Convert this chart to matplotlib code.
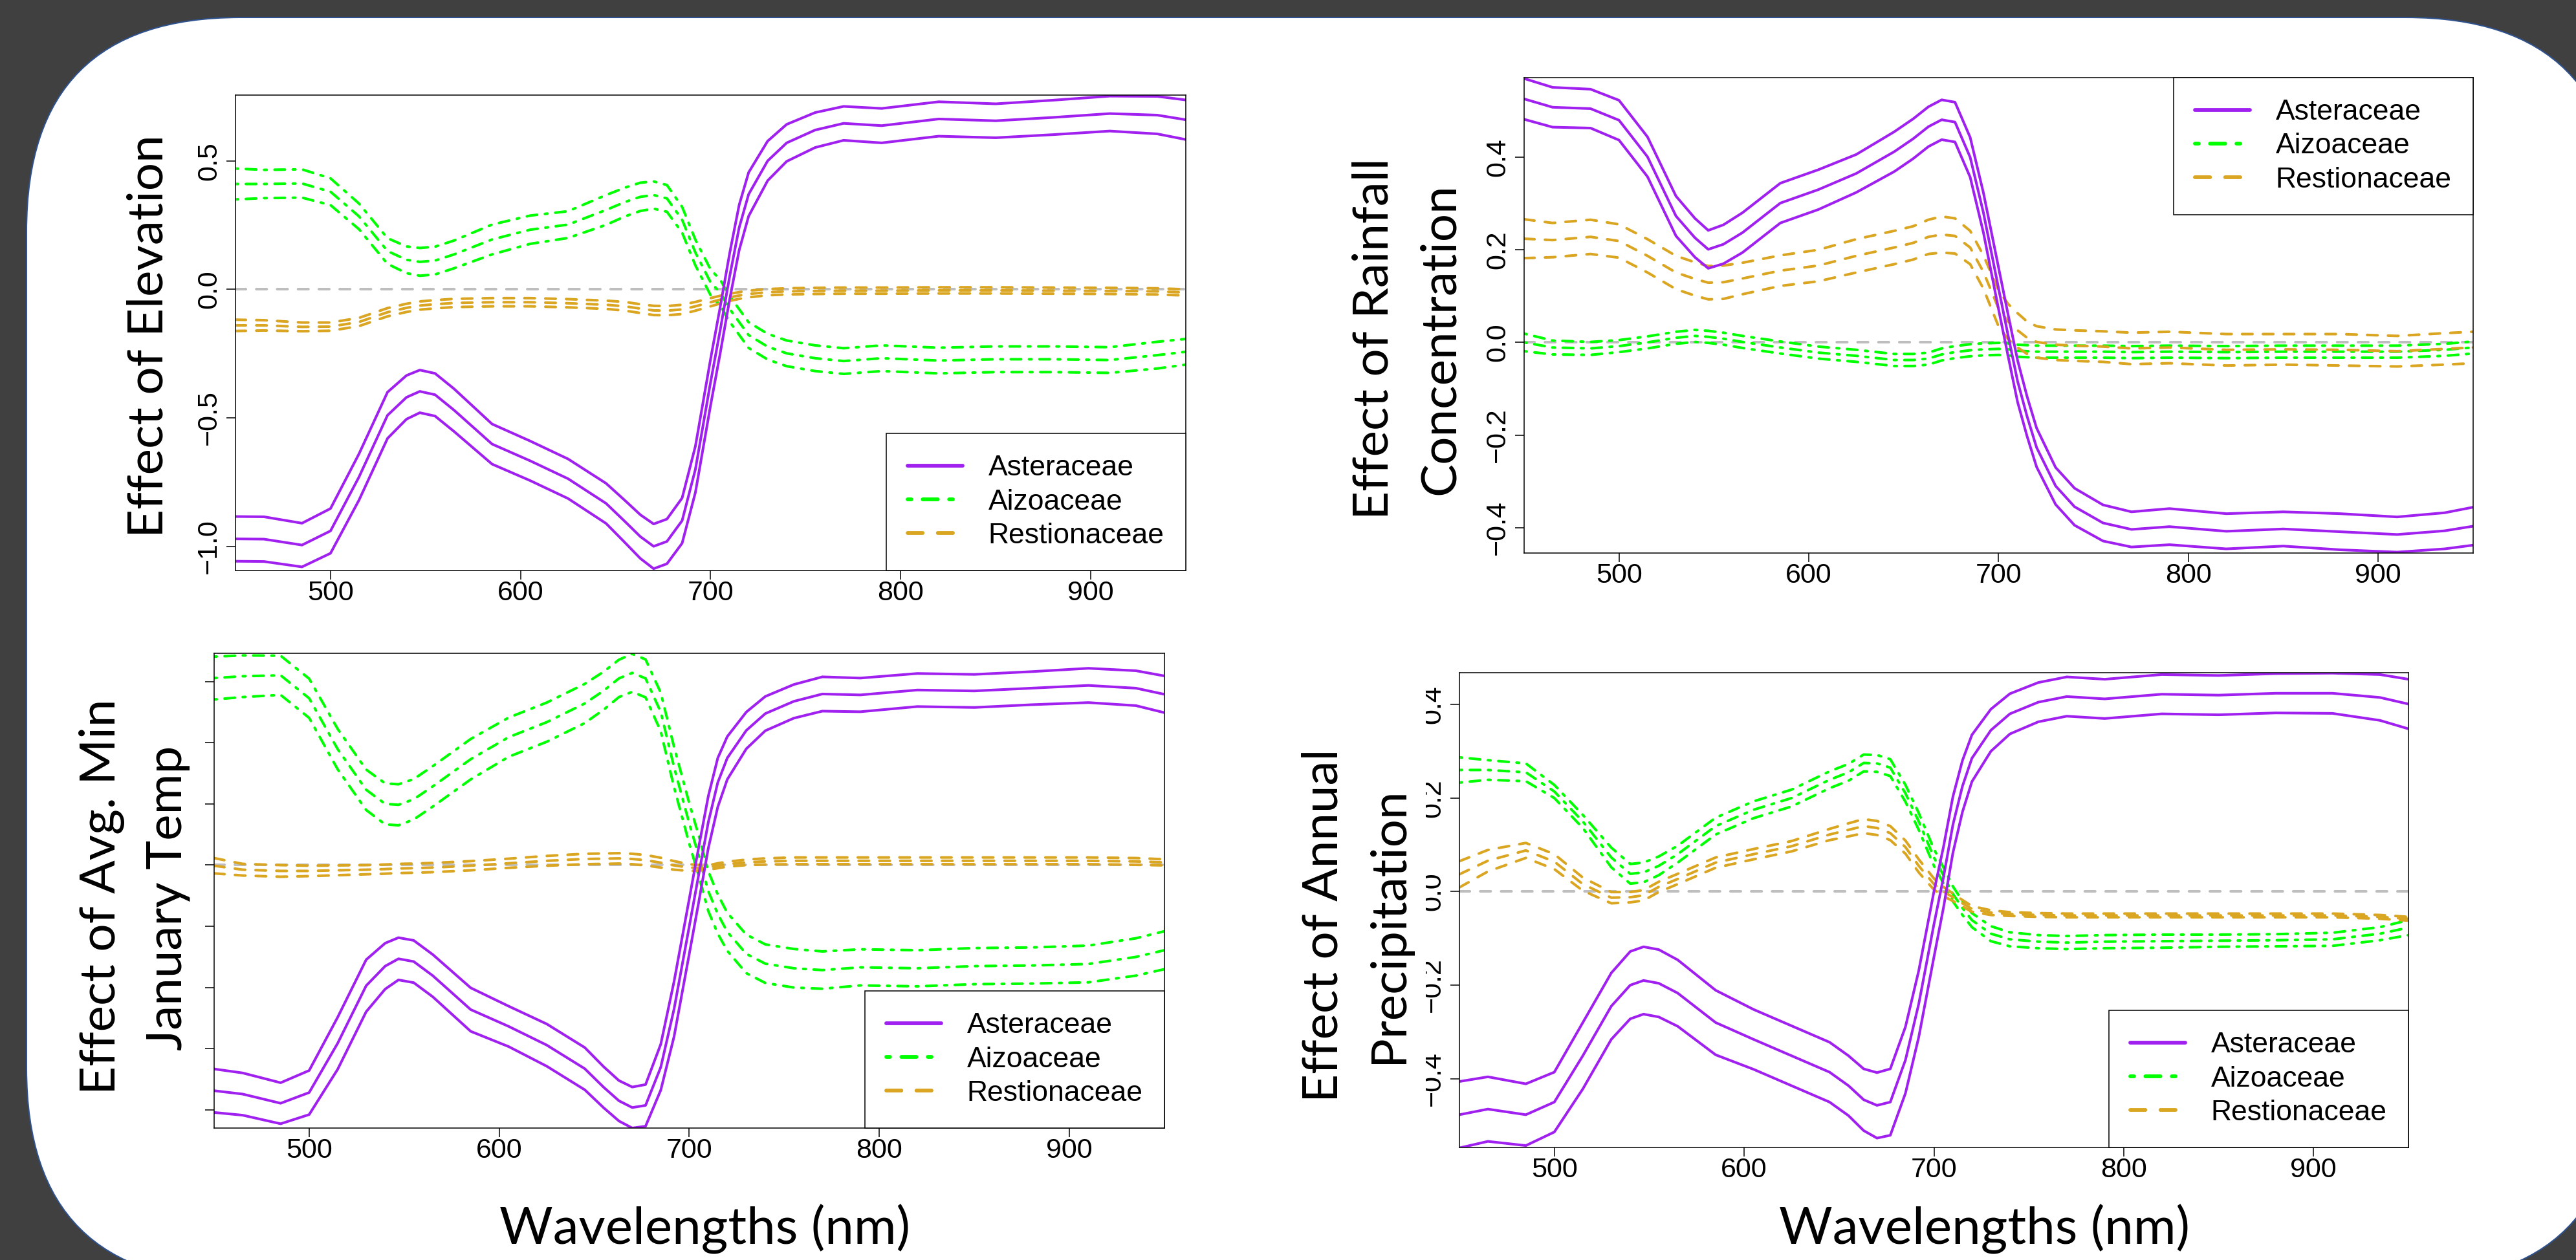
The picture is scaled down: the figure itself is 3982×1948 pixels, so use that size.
import numpy as np
import matplotlib.pyplot as plt
from matplotlib.patches import FancyBboxPatch, Rectangle
from matplotlib.transforms import IdentityTransform

W, H = 3982, 1948
DPI = 100

# shared wavelength grid (nm)
wl = [450, 465, 485, 500, 515, 530, 540, 547, 555, 565, 585, 605, 625, 645, 655, 663, 670, 677,
      685, 692, 700, 705, 710, 715, 720, 730, 740, 755, 770, 790, 820, 850, 880, 910, 935, 950]

families = ["Asteraceae", "Aizoaceae", "Restionaceae"]

# ---- Effect of Elevation (mean curve and half band width)
elev_ast = [-0.971, -0.972, -0.995, -0.94, -0.73, -0.49, -0.42, -0.397, -0.41, -0.47, -0.602,
            -0.667, -0.737, -0.833, -0.904, -0.962, -1.0, -0.981, -0.9, -0.70, -0.36, -0.16,
            0.05, 0.24, 0.37, 0.5, 0.57, 0.62, 0.646, 0.637, 0.663, 0.656, 0.669, 0.684,
            0.678, 0.66]
elev_ast_se = [0.087, 0.087, 0.085, 0.087, 0.09, 0.09, 0.085, 0.083, 0.083, 0.083, 0.078, 0.077,
               0.077, 0.078, 0.082, 0.085, 0.087, 0.087, 0.088, 0.09, 0.09, 0.09, 0.09, 0.088,
               0.085, 0.077, 0.072, 0.068, 0.066, 0.067, 0.067, 0.066, 0.067, 0.068, 0.073, 0.077]
elev_aiz = [0.41, 0.41, 0.412, 0.38, 0.284, 0.149, 0.115, 0.107, 0.112, 0.136, 0.194, 0.232,
            0.252, 0.309, 0.34, 0.36, 0.367, 0.354, 0.271, 0.143, 0.027, -0.012, -0.076, -0.127,
            -0.178, -0.223, -0.249, -0.268, -0.279, -0.268, -0.277, -0.272, -0.272, -0.275,
            -0.256, -0.243]
elev_aiz_se = [0.06, 0.055, 0.055, 0.052, 0.05, 0.05, 0.052, 0.054, 0.054, 0.054, 0.058, 0.055,
               0.052, 0.058, 0.056, 0.055, 0.053, 0.052, 0.05, 0.05, 0.05, 0.05, 0.05, 0.05, 0.05,
               0.05, 0.05, 0.05, 0.05, 0.05, 0.05, 0.05, 0.05, 0.05, 0.052, 0.05]
elev_res = [-0.14, -0.14, -0.146, -0.145, -0.127, -0.089, -0.072, -0.063, -0.058, -0.053, -0.05,
            -0.05, -0.054, -0.06, -0.066, -0.075, -0.082, -0.083, -0.078, -0.066, -0.05, -0.04,
            -0.031, -0.024, -0.018, -0.011, -0.008, -0.006, -0.005, -0.005, -0.004, -0.004,
            -0.005, -0.006, -0.008, -0.012]
elev_res_se = [0.022, 0.02, 0.017, 0.016, 0.016, 0.016, 0.016, 0.016, 0.016, 0.016, 0.016, 0.016,
               0.016, 0.016, 0.017, 0.017, 0.018, 0.018, 0.018, 0.017, 0.016, 0.015, 0.014, 0.013,
               0.013, 0.012, 0.012, 0.012, 0.012, 0.012, 0.012, 0.012, 0.012, 0.012, 0.012, 0.012]

# ---- Effect of Rainfall Concentration
rain_ast = [0.526, 0.508, 0.505, 0.48, 0.401, 0.273, 0.226, 0.201, 0.212, 0.237, 0.301, 0.33,
            0.365, 0.412, 0.44, 0.466, 0.481, 0.476, 0.40, 0.28, 0.116, 0.015, -0.084, -0.16,
            -0.227, -0.31, -0.355, -0.39, -0.404, -0.398, -0.408, -0.403, -0.409, -0.415,
            -0.407, -0.397]
rain_ast_se = [0.044, 0.043, 0.042, 0.043, 0.043, 0.043, 0.042, 0.041, 0.042, 0.043, 0.043, 0.043,
               0.041, 0.043, 0.043, 0.043, 0.043, 0.043, 0.043, 0.043, 0.045, 0.045, 0.045, 0.043,
               0.042, 0.04, 0.04, 0.039, 0.038, 0.039, 0.038, 0.037, 0.039, 0.038, 0.039, 0.041]
rain_aiz = [0.0, -0.011, -0.013, -0.008, 0.0, 0.01, 0.014, 0.012, 0.008, 0.001, -0.011, -0.022,
            -0.029, -0.038, -0.038, -0.035, -0.026, -0.021, -0.017, -0.015, -0.014, -0.015,
            -0.018, -0.019, -0.02, -0.02, -0.02, -0.02, -0.021, -0.02, -0.021, -0.02, -0.02,
            -0.02, -0.016, -0.011]
rain_aiz_se = [0.019, 0.015, 0.014, 0.013, 0.013, 0.013, 0.013, 0.013, 0.013, 0.013, 0.013, 0.013,
               0.013, 0.013, 0.013, 0.013, 0.013, 0.013, 0.013, 0.013, 0.013, 0.013, 0.013, 0.013,
               0.013, 0.013, 0.013, 0.013, 0.013, 0.013, 0.013, 0.013, 0.013, 0.013, 0.013, 0.013]
rain_res = [0.224, 0.221, 0.228, 0.219, 0.187, 0.151, 0.137, 0.129, 0.13, 0.138, 0.155, 0.166,
            0.187, 0.205, 0.215, 0.228, 0.233, 0.23, 0.205, 0.152, 0.073, 0.045, 0.026, 0.01,
            0.001, -0.005, -0.007, -0.009, -0.013, -0.011, -0.016, -0.015, -0.016, -0.019,
            -0.014, -0.011]
rain_res_se = [0.042, 0.037, 0.037, 0.036, 0.036, 0.036, 0.036, 0.036, 0.036, 0.034, 0.033, 0.034,
               0.036, 0.036, 0.036, 0.037, 0.039, 0.038, 0.036, 0.036, 0.039, 0.038, 0.037, 0.035,
               0.034, 0.033, 0.033, 0.033, 0.034, 0.034, 0.034, 0.033, 0.034, 0.033, 0.034, 0.034]

# ---- Effect of Avg. Min January Temp
temp_ast = [-0.737, -0.748, -0.778, -0.743, -0.582, -0.394, -0.33, -0.306, -0.315, -0.361,
            -0.472, -0.527, -0.588, -0.665, -0.726, -0.77, -0.792, -0.785, -0.66, -0.47, -0.2,
            -0.03, 0.14, 0.27, 0.35, 0.44, 0.495, 0.535, 0.559, 0.556, 0.572, 0.569, 0.578,
            0.587, 0.578, 0.558]
temp_ast_se = [0.071, 0.069, 0.067, 0.072, 0.085, 0.085, 0.075, 0.069, 0.069, 0.069, 0.071, 0.066,
               0.069, 0.069, 0.067, 0.066, 0.067, 0.068, 0.075, 0.09, 0.09, 0.09, 0.085, 0.08,
               0.07, 0.06, 0.056, 0.055, 0.056, 0.055, 0.054, 0.054, 0.054, 0.056, 0.057, 0.06]
temp_aiz = [0.611, 0.617, 0.62, 0.545, 0.379, 0.246, 0.2, 0.197, 0.215, 0.257, 0.346, 0.418,
            0.467, 0.528, 0.57, 0.61, 0.628, 0.61, 0.5, 0.32, 0.136, 0.03, -0.085, -0.16,
            -0.218, -0.29, -0.322, -0.337, -0.343, -0.334, -0.337, -0.33, -0.328, -0.323,
            -0.3, -0.278]
temp_aiz_se = [0.07, 0.068, 0.064, 0.064, 0.066, 0.066, 0.067, 0.067, 0.066, 0.066, 0.066, 0.064,
               0.064, 0.064, 0.062, 0.061, 0.062, 0.062, 0.063, 0.066, 0.066, 0.066, 0.065, 0.064,
               0.062, 0.063, 0.063, 0.063, 0.061, 0.059, 0.059, 0.059, 0.059, 0.06, 0.061, 0.062]
temp_res = [-0.002, -0.015, -0.019, -0.019, -0.017, -0.015, -0.013, -0.011, -0.01, -0.008,
            -0.002, 0.006, 0.014, 0.02, 0.021, 0.022, 0.02, 0.016, 0.008, -0.001, -0.008, -0.009,
            -0.008, -0.002, 0.003, 0.009, 0.012, 0.014, 0.014, 0.014, 0.014, 0.014, 0.014,
            0.014, 0.012, 0.009]
temp_res_se = [0.025, 0.019, 0.019, 0.017, 0.016, 0.015, 0.015, 0.015, 0.015, 0.015, 0.015, 0.015,
               0.016, 0.017, 0.017, 0.017, 0.017, 0.017, 0.016, 0.014, 0.011, 0.009, 0.007, 0.008,
               0.008, 0.009, 0.01, 0.011, 0.011, 0.011, 0.011, 0.011, 0.011, 0.011, 0.011, 0.01]

# ---- Effect of Annual Precipitation
prec_ast = [-0.477, -0.465, -0.477, -0.45, -0.351, -0.245, -0.2, -0.19, -0.196, -0.217, -0.28,
            -0.316, -0.351, -0.386, -0.415, -0.445, -0.457, -0.45, -0.36, -0.24, -0.07, 0.03,
            0.143, 0.225, 0.285, 0.345, 0.38, 0.405, 0.417, 0.412, 0.422, 0.42, 0.424, 0.424,
            0.415, 0.401]
prec_ast_se = [0.071, 0.069, 0.066, 0.064, 0.071, 0.071, 0.072, 0.072, 0.072, 0.071, 0.069, 0.064,
               0.064, 0.064, 0.064, 0.066, 0.07, 0.071, 0.071, 0.071, 0.07, 0.065, 0.06, 0.055,
               0.05, 0.045, 0.043, 0.042, 0.042, 0.042, 0.042, 0.042, 0.042, 0.043, 0.049, 0.053]
prec_aiz = [0.26, 0.26, 0.255, 0.214, 0.15, 0.073, 0.038, 0.041, 0.055, 0.08, 0.14, 0.175, 0.2,
            0.239, 0.255, 0.275, 0.274, 0.265, 0.21, 0.15, 0.073, 0.035, -0.005, -0.035, -0.061,
            -0.09, -0.102, -0.107, -0.109, -0.107, -0.106, -0.105, -0.104, -0.102, -0.09, -0.077]
prec_aiz_se = [0.027, 0.021, 0.019, 0.014, 0.014, 0.021, 0.021, 0.021, 0.02, 0.018, 0.018, 0.018,
               0.018, 0.018, 0.018, 0.018, 0.018, 0.018, 0.018, 0.018, 0.018, 0.017, 0.016, 0.015,
               0.015, 0.016, 0.015, 0.014, 0.014, 0.014, 0.014, 0.013, 0.013, 0.014, 0.014, 0.016]
prec_res = [0.037, 0.066, 0.088, 0.064, 0.016, -0.013, -0.012, -0.008, 0.01, 0.027, 0.062, 0.08,
            0.097, 0.122, 0.132, 0.14, 0.136, 0.125, 0.095, 0.055, 0.016, 0.0, -0.012, -0.025,
            -0.037, -0.045, -0.048, -0.05, -0.051, -0.051, -0.051, -0.051, -0.051, -0.051,
            -0.054, -0.058]
prec_res_se = [0.028, 0.023, 0.016, 0.016, 0.014, 0.012, 0.011, 0.011, 0.011, 0.011, 0.011, 0.011,
               0.011, 0.012, 0.014, 0.015, 0.015, 0.015, 0.014, 0.014, 0.012, 0.01, 0.008, 0.007,
               0.006, 0.005, 0.004, 0.004, 0.004, 0.004, 0.004, 0.004, 0.004, 0.004, 0.004, 0.004]

PURPLE = "#A020F0"
GREEN = "#00FF00"
GOLD = "#DAA520"
GRAY = "#BEBEBE"
LW = 2.9
TICK_FONT = "Liberation Sans"
LABEL_FONT = "Lato"

fig = plt.figure(figsize=(W / DPI, H / DPI), dpi=DPI, facecolor="#404040")

# white rounded card behind the panels (pixel coordinates, origin bottom left)
card_l, card_r, card_t, card_b = 41, 4050, 27, 1982
card = FancyBboxPatch((card_l, H - card_b), card_r - card_l, card_b - card_t,
                      boxstyle="round,pad=0,rounding_size=330",
                      transform=IdentityTransform(), facecolor="white",
                      edgecolor="#2F528F", linewidth=1.5, zorder=-1)
fig.add_artist(card)


def px_axes(l, t, r, b):
    return fig.add_axes([l / W, 1 - b / H, (r - l) / W, (b - t) / H])


def draw_panel(ax, series, ylim, yticks, ylabels, loc):
    styles = [dict(color=PURPLE, ls="-"),
              dict(color=GREEN, dashes=(1, 3, 4, 3)),
              dict(color=GOLD, dashes=(4, 4))]
    handles = {}
    for i in [1, 2, 0]:  # purple drawn on top
        mid = np.array(series[i][0])
        se = np.array(series[i][1])
        for sign in (1, 0, -1):
            ln, = ax.plot(wl, mid + sign * se, lw=LW, dash_capstyle="round",
                          solid_capstyle="round", solid_joinstyle="round", **styles[i])
        handles[i] = ln
    ax.axhline(0, color=GRAY, lw=LW, dashes=(4, 4), dash_capstyle="round", zorder=1.5)
    ax.set_xlim(450, 950)
    ax.set_ylim(*ylim)
    ax.set_xticks([500, 600, 700, 800, 900])
    ax.set_yticks(yticks)
    ax.set_yticklabels(ylabels, rotation=90, va="center")
    for lab in ax.get_xticklabels() + ax.get_yticklabels():
        lab.set_fontfamily(TICK_FONT)
        lab.set_fontsize(31)
    ax.tick_params(axis="both", length=10, width=1.1, color="black")
    ax.tick_params(axis="x", pad=1)
    ax.tick_params(axis="y", pad=5)
    for sp in ax.spines.values():
        sp.set_linewidth(1.1)
    leg = ax.legend([handles[0], handles[1], handles[2]], families, loc=loc,
                    frameon=True, fancybox=False, edgecolor="black", framealpha=1,
                    borderaxespad=0, prop={"family": TICK_FONT, "size": 32},
                    handlelength=1.9, handletextpad=0.9, borderpad=0.75,
                    labelspacing=0.25)
    leg.get_frame().set_linewidth(1.1)
    for ln in leg.get_lines():
        ln.set_linewidth(4.2)


ax1 = px_axes(364, 147, 1833, 882)
draw_panel(ax1, [(elev_ast, elev_ast_se), (elev_aiz, elev_aiz_se), (elev_res, elev_res_se)],
           (-1.094, 0.756), [-1.0, -0.5, 0.0, 0.5], ["\u22121.0", "\u22120.5", "0.0", "0.5"],
           "lower right")

ax2 = px_axes(2356, 120, 3823, 855)
draw_panel(ax2, [(rain_ast, rain_ast_se), (rain_aiz, rain_aiz_se), (rain_res, rain_res_se)],
           (-0.455, 0.572), [-0.4, -0.2, 0.0, 0.2, 0.4],
           ["\u22120.4", "\u22120.2", "0.0", "0.2", "0.4"], "upper right")

ax3 = px_axes(331, 1010, 1800, 1744)
draw_panel(ax3, [(temp_ast, temp_ast_se), (temp_aiz, temp_aiz_se), (temp_res, temp_res_se)],
           (-0.859, 0.692), [-0.8, -0.6, -0.4, -0.2, 0.0, 0.2, 0.4, 0.6],
           [""] * 8, "lower right")

ax4 = px_axes(2256, 1040, 3723, 1774)
draw_panel(ax4, [(prec_ast, prec_ast_se), (prec_aiz, prec_aiz_se), (prec_res, prec_res_se)],
           (-0.547, 0.468), [-0.4, -0.2, 0.0, 0.2, 0.4],
           ["\u22120.4", "\u22120.2", "0.0", "0.2", "0.4"], "lower right")

# the precipitation tick labels are cut at their left edge in the original
fig.add_artist(Rectangle((2186, H - 1775), 18, 735, transform=IdentityTransform(),
                         facecolor="white", edgecolor="none", zorder=3))


def ylab(text, x_base, y_center):
    fig.text(x_base / W, 1 - y_center / H, text, rotation=90, rotation_mode="anchor",
             ha="center", va="baseline", family=LABEL_FONT, fontsize=55, zorder=4)


ylab("Effect of Elevation", 252, 520)
ylab("Effect of Rainfall", 2145, 524)
ylab("Concentration", 2248, 524)
ylab("Effect of Avg. Min", 178, 1386)
ylab("January Temp", 280, 1388)
ylab("Effect of Annual", 2067, 1431)
ylab("Precipitation", 2168, 1430)

for xc in (1089, 3067):
    fig.text(xc / W, 1 - 1923 / H, "Wavelengths (nm)", ha="center", va="baseline",
             family=LABEL_FONT, fontsize=57.5, zorder=4)

fig.savefig("out.png", dpi=DPI, facecolor=fig.get_facecolor())
